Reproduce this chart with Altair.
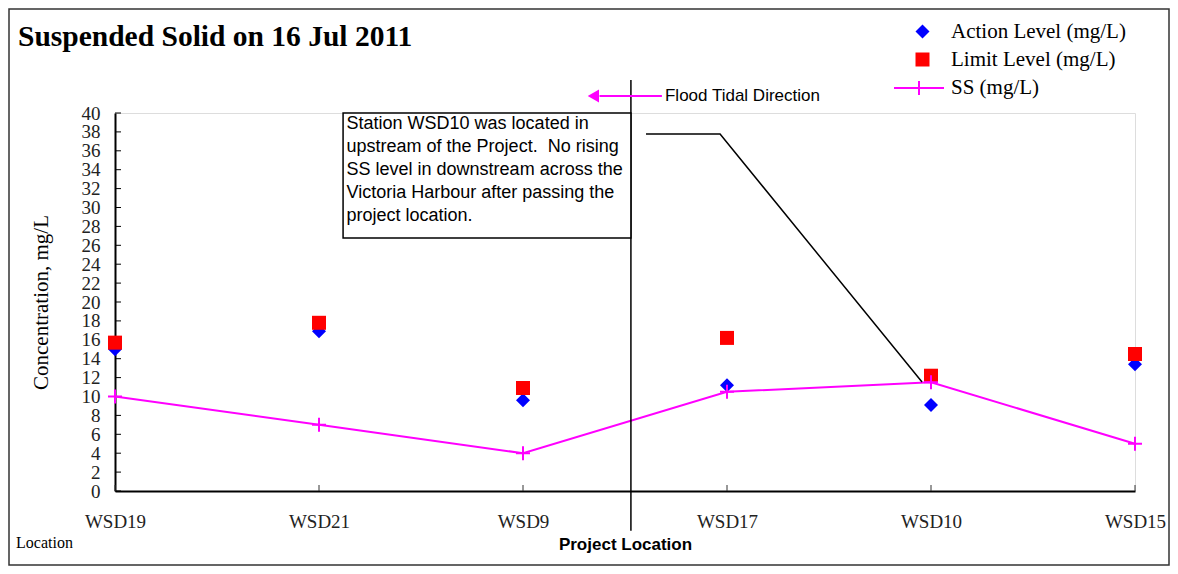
import altair as alt
import pandas as pd

# ---- data ----
STATIONS = ["WSD19", "WSD21", "WSD9", "WSD17", "WSD10", "WSD15"]
ACTION = [15.0, 16.9, 9.6, 11.2, 9.1, 13.4]
LIMIT = [15.7, 17.8, 10.9, 16.2, 12.2, 14.5]
SS = [10.0, 7.0, 4.0, 10.5, 11.5, 5.0]
Y_TICKS = [0, 2, 4, 6, 8, 10, 12, 14, 16, 18, 20, 22, 24, 26, 28, 30, 32, 34, 36, 38, 40]
X_TICKS = [0, 1, 2, 3, 4, 5]

ACT_NAME = "Action Level (mg/L)"
LIM_NAME = "Limit Level (mg/L)"
SS_NAME = "SS (mg/L)"

NOTE_LINES = [
    "Station WSD10 was located in",
    "upstream of the Project.\u00a0 No rising",
    "SS level in downstream across the",
    "Victoria Harbour after passing the",
    "project location.",
]

SERIF = "Liberation Serif"
SANS = "Liberation Sans"
MAGENTA = "#FF00FF"

pts = pd.DataFrame({
    "x": list(range(len(STATIONS))) * 2,
    "y": ACTION + LIMIT,
    "series": [ACT_NAME] * len(ACTION) + [LIM_NAME] * len(LIMIT),
})
ss = pd.DataFrame({"x": list(range(len(STATIONS))), "y": SS, "series": SS_NAME})

label_expr = "[" + ",".join(f"'{s}'" for s in STATIONS) + "][datum.value]"

xscale = alt.Scale(domain=[0, 5], nice=False, zero=False)
yscale = alt.Scale(domain=[0, 40], nice=False, zero=False)


def X(field="x"):
    return alt.X(f"{field}:Q", scale=xscale, axis=alt.Axis(
        values=X_TICKS, labelExpr=label_expr, ticks=False, grid=False,
        domainColor="black", domainWidth=2, labelFont=SERIF, labelFontSize=19,
        labelColor="#222", labelPadding=21, labelFlush=False,
        title="Project Location", titleFont=SANS, titleFontWeight="bold",
        titleFontSize=17, titleColor="black", titlePadding=5))


def Y(field="y"):
    return alt.Y(f"{field}:Q", scale=yscale, axis=alt.Axis(
        values=Y_TICKS, ticks=False, grid=False, domainColor="black",
        domainWidth=2, labelFont=SERIF, labelFontSize=19, labelColor="#222",
        labelPadding=15, labelFlush=False, labelOverlap=False,
        title="Concentration, mg/L", titleFont=SERIF, titleFontWeight="normal",
        titleFontSize=21, titleColor="black", titlePadding=30))


LEG = dict(title=None, orient="none", labelFont=SERIF, labelFontSize=21,
           labelColor="black", labelLimit=400, padding=0)

# inward ticks
yt = alt.Chart(pd.DataFrame({"y": Y_TICKS})).mark_rule(color="black", strokeWidth=1).encode(
    y=Y(), x=alt.value(0), x2=alt.value(6))
xt = alt.Chart(pd.DataFrame({"x": X_TICKS})).mark_rule(color="#333", strokeWidth=1).encode(
    x=X(), y=alt.value(378), y2=alt.value(372))

pt_legend = alt.Legend(legendX=797, legendY=-92, labelOffset=18, rowPadding=6,
                       symbolSize=196, symbolStrokeWidth=0, **LEG)
points = alt.Chart(pts).mark_point(filled=True, size=196, opacity=1).encode(
    x=X(), y=Y(),
    fill=alt.Fill("series:N", scale=alt.Scale(domain=[ACT_NAME, LIM_NAME], range=["#0000FF", "#FF0000"]),
                  legend=pt_legend),
    shape=alt.Shape("series:N", scale=alt.Scale(domain=[ACT_NAME, LIM_NAME], range=["diamond", "square"]),
                    legend=pt_legend),
    order=alt.Order("series:N"),
)

line = alt.Chart(ss).mark_line(strokeWidth=2).encode(
    x=X(), y=Y(),
    stroke=alt.Stroke("series:N", scale=alt.Scale(domain=[SS_NAME], range=[MAGENTA]),
                      legend=alt.Legend(legendX=778, legendY=-51, labelOffset=6,
                                        symbolType="M-1,0L1,0M0,-0.28L0,0.28",
                                        symbolSize=2500, symbolStrokeWidth=2, **LEG)),
)
crosses = alt.Chart(ss).mark_point(shape="M-1,0L1,0M0,-1L0,1", size=196, strokeWidth=2,
                                   filled=False, color=MAGENTA, opacity=1).encode(x=X(), y=Y())

# ---- annotations (data coordinates) ----
vline = alt.Chart(pd.DataFrame({"x": [2.529], "y": [43.5], "y2": [-4.2]})).mark_rule(
    color="black", strokeWidth=1.5).encode(x=X(), y=Y(), y2="y2:Q")

arrow_line = alt.Chart(pd.DataFrame({"x": [2.375], "x2": [2.681], "y": [41.8]})).mark_rule(
    color=MAGENTA, strokeWidth=2).encode(x=X(), x2="x2:Q", y=Y())
arrow_head = alt.Chart(pd.DataFrame({"x": [2.345], "y": [41.8]})).mark_point(
    shape="triangle-left", filled=True, color=MAGENTA, size=170, opacity=1).encode(x=X(), y=Y())
flood_text = alt.Chart(pd.DataFrame({"x": [2.696], "y": [41.8]})).mark_text(
    text="Flood Tidal Direction", align="left", baseline="middle", font=SANS, fontSize=17,
    color="black").encode(x=X(), y=Y())

box = alt.Chart(pd.DataFrame({"x": [1.118], "x2": [2.529], "y": [40.0], "y2": [26.77]})).mark_rect(
    fill="white", stroke="black", strokeWidth=1.5).encode(x=X(), x2="x2:Q", y=Y(), y2="y2:Q")
note = alt.Chart(pd.DataFrame({"x": [1.135], "y": [39.75]})).mark_text(
    text=NOTE_LINES, align="left", baseline="top", font=SANS, fontSize=18, lineHeight=23,
    color="black", dy=0).encode(x=X(), y=Y())

callout = alt.Chart(pd.DataFrame({"x": [2.603, 2.966, 3.956], "y": [37.78, 37.78, 11.53],
                                  "o": [0, 1, 2]})).mark_line(color="black", strokeWidth=1.5).encode(
    x=X(), y=Y(), order="o:Q")

loc_text = alt.Chart(pd.DataFrame({"x": [-0.485], "y": [-5.5]})).mark_text(
    text="Location", align="left", baseline="middle", font=SERIF, fontSize=16,
    color="black").encode(x=X(), y=Y())

frame = alt.Chart(pd.DataFrame({"x": [0]})).mark_rect(fill=None, stroke="#333", strokeWidth=1.5).encode(
    x=alt.value(-106), x2=alt.value(1054), y=alt.value(-104), y2=alt.value(452))

chart = alt.layer(
    frame, yt, xt, points, line, crosses, vline, arrow_line, arrow_head, flood_text,
    box, note, callout, loc_text,
).resolve_legend(fill="shared", shape="shared").properties(
    width=1020, height=378,
    padding={"left": 107, "top": 105, "right": 35, "bottom": 75},
    autosize=alt.AutoSizeParams(type="none"),
    title=alt.TitleParams("Suspended Solid on 16 Jul 2011", anchor="start", frame="group",
                          font=SERIF, fontSize=29.5, fontWeight="bold", color="black",
                          dx=-97, dy=84, offset=40),
).configure_view(stroke="#808080", strokeWidth=2).configure(background="white")

chart.save("out.html", embed_options={"renderer": "svg", "actions": False})
